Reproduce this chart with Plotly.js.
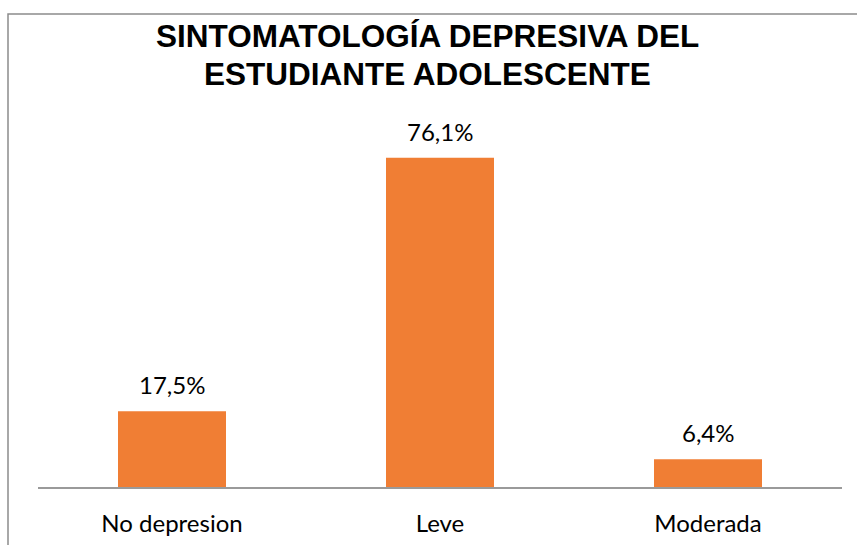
<!DOCTYPE html>
<html>
<head>
<meta charset="utf-8">
<script src="https://cdn.plot.ly/plotly-3.0.1.min.js"></script>
<style>html,body{margin:0;padding:0;background:#fff;}#chart{width:857px;height:545px;}</style>
</head>
<body>
<div id="chart"></div>
<script>
const categories = ["No depresion", "Leve", "Moderada"];
const values = [17.5, 76.1, 6.4];
const valueLabels = ["17,5%", "76,1%", "6,4%"];
const titleLines = ["SINTOMATOLOGÍA DEPRESIVA DEL", "ESTUDIANTE ADOLESCENTE"];

const labelFont = {family: "Lato, 'Open Sans', sans-serif", size: 24, color: "#000"};
const titleFont = {family: "'Liberation Sans', Arial, sans-serif", size: 31.5, color: "#000", weight: "bold"};

const trace = {
  type: "bar",
  x: categories,
  y: values,
  width: 0.403,
  marker: {color: "#F07E34", line: {width: 0}},
  hoverinfo: "skip"
};

const annotations = categories.map((c, i) => ({
  x: c, y: values[i], xref: "x", yref: "y",
  text: valueLabels[i], showarrow: false,
  yanchor: "bottom", yshift: 10, font: labelFont
}));
annotations.push({
  xref: "paper", yref: "paper", x: 0.485, y: (487 - 48) / 346,
  text: "<b>" + titleLines[0] + "</b>", showarrow: false,
  yanchor: "bottom", xanchor: "center", yshift: -8, font: titleFont
});
annotations.push({
  xref: "paper", yref: "paper", x: 0.485, y: (487 - 86) / 346,
  text: "<b>" + titleLines[1] + "</b>", showarrow: false,
  yanchor: "bottom", xanchor: "center", yshift: -8, font: titleFont
});

const layout = {
  width: 857, height: 545,
  margin: {l: 38, r: 15, t: 141, b: 58, pad: 0},
  paper_bgcolor: "#fff", plot_bgcolor: "#fff",
  showlegend: false,
  xaxis: {
    type: "category", range: [-0.5, 2.5],
    showline: true, linecolor: "#9a9a9a", linewidth: 1.5,
    ticks: "", tickfont: labelFont, ticklabelstandoff: 15,
    showgrid: false, zeroline: false
  },
  yaxis: {
    range: [0, 80], visible: false, showgrid: false, zeroline: false
  },
  annotations: annotations,
  shapes: [{
    type: "rect", xref: "paper", yref: "paper",
    x0: (8 - 38) / 804, x1: 1.05, y0: -0.3, y1: (487 - 14) / 346,
    line: {color: "#8c8c8c", width: 1.5}, fillcolor: "rgba(0,0,0,0)", layer: "below"
  }]
};

Plotly.newPlot("chart", [trace], layout, {displayModeBar: false, staticPlot: true});
</script>
</body>
</html>
